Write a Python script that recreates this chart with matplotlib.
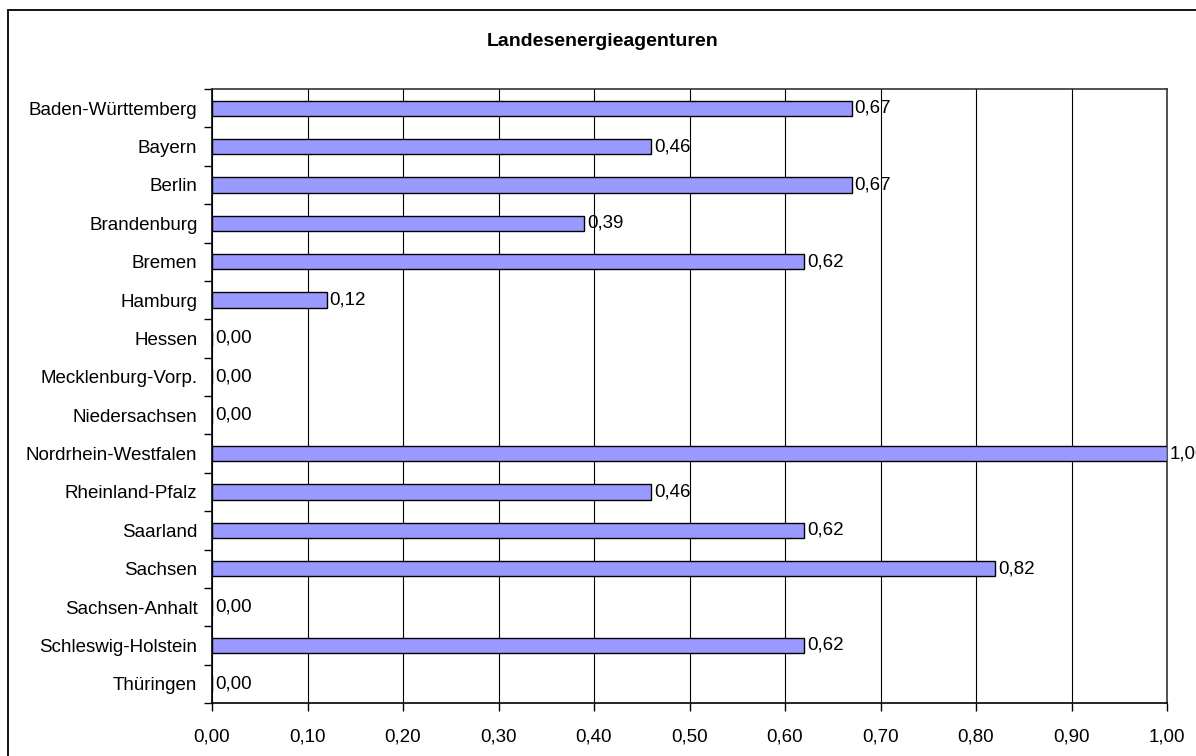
import matplotlib.pyplot as plt
from matplotlib.patches import Rectangle
from matplotlib.ticker import MultipleLocator, FuncFormatter
import numpy as np

plt.rcParams['font.family'] = ['Liberation Sans', 'DejaVu Sans']

laender = ['Baden-Württemberg', 'Bayern', 'Berlin', 'Brandenburg', 'Bremen',
           'Hamburg', 'Hessen', 'Mecklenburg-Vorp.', 'Niedersachsen',
           'Nordrhein-Westfalen', 'Rheinland-Pfalz', 'Saarland', 'Sachsen',
           'Sachsen-Anhalt', 'Schleswig-Holstein', 'Thüringen']
werte = [0.67, 0.46, 0.67, 0.39, 0.62, 0.12, 0.0, 0.0, 0.0,
         1.0, 0.46, 0.62, 0.82, 0.0, 0.62, 0.0]

def komma(v, pos=None):
    return '{:.2f}'.format(v).replace('.', ',')

fig = plt.figure(figsize=(11.96, 7.56), dpi=100)
ax = fig.add_axes([212/1196, 1 - 703/756, (1167 - 212)/1196, (703 - 89)/756])

y = np.arange(len(laender))
ax.barh(y, werte, height=0.4, color='#9999FF', edgecolor='black', linewidth=1, zorder=3)
for yi, v in zip(y, werte):
    ax.text(v + 0.003, yi, komma(v), va='center', ha='left', fontsize=13.5, zorder=4, clip_on=False)

ax.set_xlim(0, 1)
ax.set_ylim(len(laender) - 0.5, -0.5)
ax.xaxis.set_major_locator(MultipleLocator(0.1))
ax.xaxis.set_major_formatter(FuncFormatter(komma))
ax.grid(axis='x', color='black', linewidth=0.8, zorder=0)

ax.set_yticks(y)
ax.set_yticklabels(laender)
ax.set_yticks(np.arange(len(laender) + 1) - 0.5, minor=True)
ax.tick_params(axis='y', which='major', length=0, pad=10.5, labelsize=13.5)
ax.tick_params(axis='y', which='minor', length=6, width=1, direction='out')
ax.tick_params(axis='x', which='major', length=6, width=1, direction='out', pad=12, labelsize=13.5)

for s in ['left', 'bottom']:
    ax.spines[s].set_linewidth(1.2)
for s in ['top', 'right']:
    ax.spines[s].set_color('#333333')
    ax.spines[s].set_linewidth(1.2)

fig.text(603/1196, 1 - 42/756, 'Landesenergieagenturen', ha='center', va='center',
         fontsize=14, fontweight='bold')

fig.patches.append(Rectangle((8/1196, -0.1), 1.2, (756 - 10)/756 + 0.1,
                             transform=fig.transFigure, fill=False,
                             edgecolor='black', linewidth=1.3))

fig.savefig('out.png', dpi=100)
